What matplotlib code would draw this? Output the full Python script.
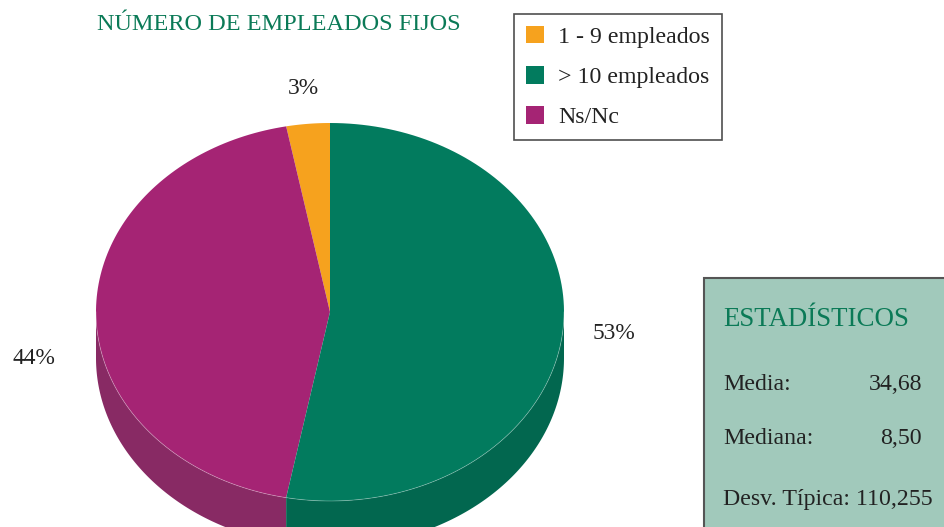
"""Número de empleados fijos: 3D-style pie with legend and stats panel."""

import numpy as np
import matplotlib
matplotlib.use('Agg')
import matplotlib.pyplot as plt
from matplotlib.patches import Polygon, Rectangle, Patch

plt.rcParams['font.family'] = ['Liberation Serif', 'DejaVu Serif']

# data
categories = ["1 - 9 empleados", "> 10 empleados", "Ns/Nc"]
shares = [3, 53, 44]
top_colors = ['#f6a21e', '#027b5e', '#a52474']
side_colors = ['#c9841a', '#02674f', '#882a64']
# drawing order around the pie, counter-clockwise from 12 o'clock
pie_order = [0, 2, 1]

stat_labels = ["Media:", "Mediana:"]
stat_values = ["34,68", "8,50"]
stat_desv = "Desv. Típica: 110,255"

title = "NÚMERO DE EMPLEADOS FIJOS"
title_green = '#0b7a57'

# layout (pixel space)
W, H = 945, 527
cx, cy, rx, ry, depth = 330, 312, 234, 189, 46


def arc(t0, t1, dy=0.0, n=120):
    t = np.radians(np.linspace(t0, t1, n))
    return np.column_stack([cx + rx * np.cos(t), cy - ry * np.sin(t) + dy])


fig = plt.figure(figsize=(W / 100, H / 100), dpi=100)
ax = fig.add_axes([0, 0, 1, 1])
ax.set_xlim(0, W)
ax.set_ylim(H, 0)
ax.axis('off')

# slice angle ranges
total = float(sum(shares))
ranges = {}
start = 90.0
for i in pie_order:
    span = 360.0 * shares[i] / total
    ranges[i] = (start, start + span)
    start += span

# side walls (front half only)
for i in pie_order:
    a, b = ranges[i]
    for k in (-1, 0, 1):
        lo, hi = max(a, 180 + 360 * k), min(b, 360 + 360 * k)
        if hi > lo:
            top = arc(lo, hi)
            bot = arc(hi, lo, dy=depth)
            ax.add_patch(Polygon(np.vstack([top, bot]), closed=True,
                                 facecolor=side_colors[i], edgecolor='none'))

# top faces
for i in pie_order:
    a, b = ranges[i]
    pts = np.vstack([[cx, cy], arc(a, b)])
    ax.add_patch(Polygon(pts, closed=True, facecolor=top_colors[i],
                         edgecolor='none'))

# light rim where top meets side
rim = arc(180, 360)
ax.plot(rim[:, 0], rim[:, 1], color='white', lw=0.6, alpha=0.3)

# percentage labels
label_nudge = {0: (0, 0), 1: (0, 0), 2: (-11, 46)}
for i in pie_order:
    a, b = ranges[i]
    mid = np.radians((a + b) / 2)
    x = cx + rx * 1.22 * np.cos(mid) + label_nudge[i][0]
    y = cy - ry * 1.19 * np.sin(mid) + label_nudge[i][1]
    ax.text(x, y, f"{shares[i]}%", ha='center', va='center', fontsize=16.8,
            color='#222222')

# title
ax.text(97, 25, title, ha='left', va='center', fontsize=17.5,
        color=title_green)

# legend
handles = [Patch(facecolor=c, edgecolor='none') for c in top_colors]
leg = ax.legend(handles, categories, loc='upper left',
                bbox_to_anchor=(514 / W, 1 - 14 / H), borderaxespad=0,
                fontsize=17.2, frameon=True, fancybox=False,
                handlelength=0.75, handleheight=0.75, handletextpad=0.6,
                labelspacing=0.76, borderpad=0.5)
leg.get_frame().set_edgecolor('#222222')
leg.get_frame().set_linewidth(1.2)
for t in leg.get_texts():
    t.set_color('#222222')

# stats panel
ax.add_patch(Rectangle((704, 278), 300, 300, facecolor='#a1c9bb',
                       edgecolor='#555555', lw=1.5))
ax.text(723, 320, "ESTADÍSTICOS", ha='left', va='center', fontsize=19.4,
        color=title_green)
for j, (lab, val) in enumerate(zip(stat_labels, stat_values)):
    y = 384 + 55 * j
    ax.text(723, y, lab, ha='left', va='center', fontsize=17.2, color='#222222')
    ax.text(922, y, val, ha='right', va='center', fontsize=17.2, color='#222222')
ax.text(723, 499, stat_desv, ha='left', va='center', fontsize=17.2,
        color='#222222')

plt.savefig('out.png', dpi=100)
plt.close(fig)
